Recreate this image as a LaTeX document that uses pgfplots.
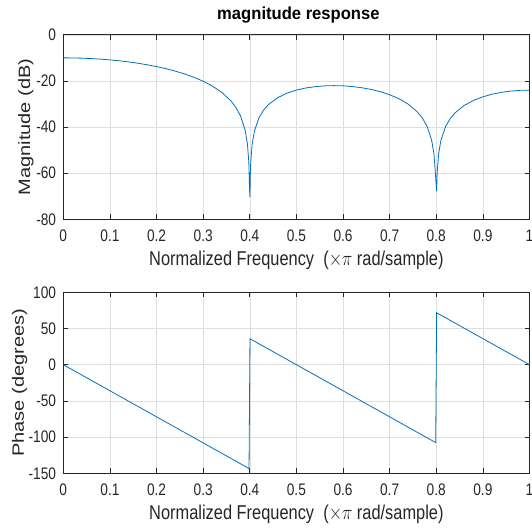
\documentclass[border=0pt]{standalone}
\usepackage{pgfplots}
\pgfplotsset{compat=1.18}
\usepackage{graphicx}
\usepackage{fontspec}
\setmainfont{Liberation Sans}
\definecolor{mblue}{rgb}{0,0.447,0.741}
\definecolor{axgray}{rgb}{0.15,0.15,0.15}
\definecolor{gridgray}{rgb}{0.87,0.87,0.87}
\pgfplotsset{mstyle/.style={
  scale only axis, width=466.2pt, xmin=0, xmax=1,
  xtick={0,0.1,0.2,0.3,0.4,0.5,0.6,0.7,0.8,0.9,1},
  grid=major, major grid style={gridgray, line width=0.5pt},
  axis line style={axgray, line width=0.8pt},
  major tick style={axgray, line width=0.6pt}, major tick length=5pt,
  tick align=inside,
  xticklabel={\scalebox{1}[1.22]{\pgfmathprintnumber[assume math mode=true]{\tick}}},
  yticklabel={\scalebox{1}[1.22]{\pgfmathprintnumber[assume math mode=true]{\tick}}},
  tick label style={font=\fontsize{13.7}{16}\selectfont, text=axgray, inner sep=0pt},
  xticklabel style={anchor=base, yshift=-22pt},
  yticklabel style={anchor=east, xshift=-7pt},
  label style={font=\fontsize{16.4}{19}\selectfont, text=axgray, inner sep=0pt},
  xlabel={\scalebox{1}[1.22]{Normalized Frequency\ \ ($\times\pi$ rad/sample)}},
  xlabel style={at={(axis description cs:0.5,0)}, anchor=base, yshift=-46pt},
}}
\begin{document}
\begin{tikzpicture}
\begin{axis}[mstyle, name=top, at={(63.3pt,307.7pt)}, anchor=south west,
  height=184.5pt, ymin=-80, ymax=0, ytick={-80,-60,-40,-20,0},
  ylabel={\scalebox{1.22}[1]{Magnitude (dB)}},
  ylabel style={at={(axis description cs:-0.0972,0.5)}, anchor=north},
  title={\scalebox{1}[1.05]{magnitude response}},
  title style={at={(axis description cs:0.5,1)}, anchor=base, yshift=9pt, xshift=2pt,
    font=\bfseries\fontsize{16.6}{19}\selectfont, text=black, inner sep=0pt},
]
\addplot[mblue, line width=0.8pt, no marks] coordinates {
(0,-10) (0.02,-10.03) (0.04,-10.14) (0.06,-10.31) (0.08,-10.56) (0.10,-10.88)
(0.12,-11.28) (0.14,-11.76) (0.16,-12.33) (0.18,-13.00) (0.20,-13.78)
(0.22,-14.68) (0.24,-15.74) (0.26,-16.96) (0.28,-18.40) (0.30,-20.13)
(0.32,-22.25) (0.34,-24.97) (0.36,-28.76) (0.37,-31.41) (0.38,-35.09)
(0.39,-41.28) (0.395,-47.39) (0.398,-55.40) (0.3995,-67.48) (0.4004,-70.5)
(0.401,-61.48) (0.402,-55.48) (0.405,-47.58) (0.41,-41.66) (0.42,-35.84)
(0.43,-32.54) (0.44,-30.27) (0.46,-27.25) (0.48,-25.30) (0.50,-23.98)
(0.52,-23.07) (0.54,-22.50) (0.56,-22.15) (0.58,-22.04) (0.60,-22.14)
(0.62,-22.44) (0.64,-22.95) (0.66,-23.68) (0.68,-24.67) (0.70,-25.99)
(0.72,-27.73) (0.74,-30.09) (0.76,-33.55) (0.77,-36.04) (0.78,-39.56)
(0.79,-45.61) (0.795,-51.64) (0.798,-59.61) (0.8008,-67.8) (0.802,-59.63)
(0.805,-51.69) (0.81,-45.69) (0.82,-39.74) (0.83,-36.30) (0.84,-33.90)
(0.86,-30.63) (0.88,-28.44) (0.90,-26.88) (0.92,-25.75) (0.94,-24.94)
(0.96,-24.40) (0.98,-24.08) (1.0,-23.98)
};
\end{axis}
\begin{axis}[mstyle, name=bot, at={(63.3pt,53.7pt)}, anchor=south west,
  height=181pt, ymin=-150, ymax=100, ytick={-150,-100,-50,0,50,100},
  ylabel={\scalebox{1.22}[1]{Phase (degrees)}},
  ylabel style={at={(axis description cs:-0.1107,0.5)}, anchor=north},
]
\addplot[mblue, line width=0.8pt, no marks] coordinates {
(0,0) (0.3984,-143.4) (0.4004,35.86) (0.7988,-107.58) (0.8008,71.72) (1.0,0)
};
\end{axis}
\pgfresetboundingbox
\path[use as bounding box] (0,0) rectangle (532pt,527pt);
\end{tikzpicture}
\end{document}
